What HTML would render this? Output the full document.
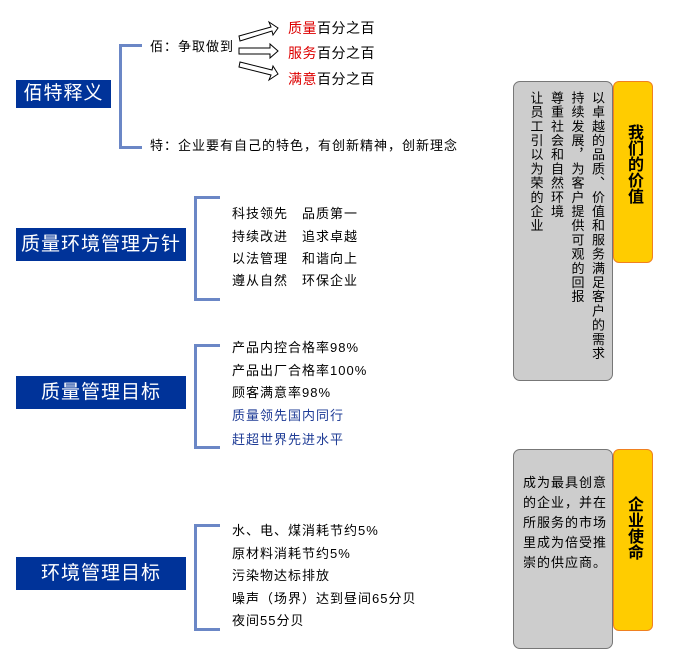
<!DOCTYPE html>
<html><head><meta charset="utf-8"><style>
body{margin:0;width:685px;height:655px;background:#fff;position:relative;font-family:"Liberation Sans","Noto Sans CJK SC",sans-serif;overflow:hidden}
.a{position:absolute;white-space:nowrap}
.box{position:absolute;background:#003399;color:#fff;font-size:19px;text-align:center;letter-spacing:1px}
.t{position:absolute;font-size:13px;color:#000;white-space:nowrap;line-height:16px;letter-spacing:1px}
.br{position:absolute;border:3px solid #6b87c6;border-right:none}
.r{color:#d00}
.bl{color:#1f3c96}
</style></head><body>
<div class="box" style="left:16px;top:80px;width:95px;height:28px;line-height:28px">佰特释义</div>
<div class="box" style="left:16px;top:228px;width:170px;height:33px;line-height:33px">质量环境管理方针</div>
<div class="box" style="left:16px;top:376px;width:170px;height:33px;line-height:33px">质量管理目标</div>
<div class="box" style="left:16px;top:557px;width:170px;height:33px;line-height:33px">环境管理目标</div>

<div class="br" style="left:119px;top:44px;width:20px;height:99px"></div>
<div class="br" style="left:194px;top:196px;width:23px;height:99px"></div>
<div class="br" style="left:194px;top:344px;width:23px;height:99px"></div>
<div class="br" style="left:194px;top:524px;width:23px;height:101px"></div>

<div class="t" style="left:150px;top:39px">佰：争取做到</div>
<div class="t" style="left:150px;top:138px">特：企业要有自己的特色，有创新精神，创新理念</div>

<svg class="a" style="left:236px;top:18px" width="50" height="66" viewBox="0 0 50 66">
<g fill="#fff" stroke="#000" stroke-width="1">
<polygon points="3,18 35,9 33,4 42,10 37,17 36,13 4,23"/>
<polygon points="3,30 34,30 34,26 42,33 34,40 34,36 3,36"/>
<polygon points="4,44 36,52 37,48 42,56 33,62 35,57 3,49"/>
</g></svg>
<div class="a" style="left:288px;top:18px;font-size:14px;letter-spacing:0.5px"><span class="r">质量</span>百分之百</div>
<div class="a" style="left:288px;top:43px;font-size:14px;letter-spacing:0.5px"><span class="r">服务</span>百分之百</div>
<div class="a" style="left:288px;top:69px;font-size:14px;letter-spacing:0.5px"><span class="r">满意</span>百分之百</div>

<div class="t" style="left:232px;top:206px">科技领先　品质第一</div>
<div class="t" style="left:232px;top:229px">持续改进　追求卓越</div>
<div class="t" style="left:232px;top:251px">以法管理　和谐向上</div>
<div class="t" style="left:232px;top:273px">遵从自然　环保企业</div>

<div class="t" style="left:232px;top:340px">产品内控合格率98%</div>
<div class="t" style="left:232px;top:363px">产品出厂合格率100%</div>
<div class="t" style="left:232px;top:385px">顾客满意率98%</div>
<div class="t bl" style="left:232px;top:408px">质量领先国内同行</div>
<div class="t bl" style="left:232px;top:432px">赶超世界先进水平</div>

<div class="t" style="left:232px;top:523px">水、电、煤消耗节约5%</div>
<div class="t" style="left:232px;top:546px">原材料消耗节约5%</div>
<div class="t" style="left:232px;top:568px">污染物达标排放</div>
<div class="t" style="left:232px;top:591px">噪声（场界）达到昼间65分贝</div>
<div class="t" style="left:232px;top:613px">夜间55分贝</div>

<div class="a" style="left:513px;top:81px;width:98px;height:298px;background:#cdcdcd;border:1px solid #777;border-radius:7px"></div>
<div class="a" style="left:527px;top:91px;height:285px;writing-mode:vertical-rl;font-size:13px;line-height:20.5px;letter-spacing:1.2px;white-space:normal;width:80px">以卓越的品质、价值和服务满足客户的需求<br>持续发展，为客户提供可观的回报<br>尊重社会和自然环境<br>让员工引以为荣的企业</div>
<div class="a" style="left:613px;top:81px;width:38px;height:180px;background:#ffcc00;border:1px solid #f08020;border-radius:6px"></div>
<div class="a" style="left:624px;top:124px;writing-mode:vertical-rl;font-size:16px;font-weight:bold;line-height:18px">我们的价值</div>

<div class="a" style="left:513px;top:449px;width:98px;height:198px;background:#cdcdcd;border:1px solid #777;border-radius:7px"></div>
<div class="a" style="left:523px;top:473px;width:88px;font-size:13px;line-height:20px;letter-spacing:1px;white-space:normal">成为最具创意的企业，并在所服务的市场里成为倍受推崇的供应商。</div>
<div class="a" style="left:613px;top:449px;width:38px;height:180px;background:#ffcc00;border:1px solid #f08020;border-radius:6px"></div>
<div class="a" style="left:624px;top:496px;writing-mode:vertical-rl;font-size:16px;font-weight:bold;line-height:18px">企业使命</div>
</body></html>
